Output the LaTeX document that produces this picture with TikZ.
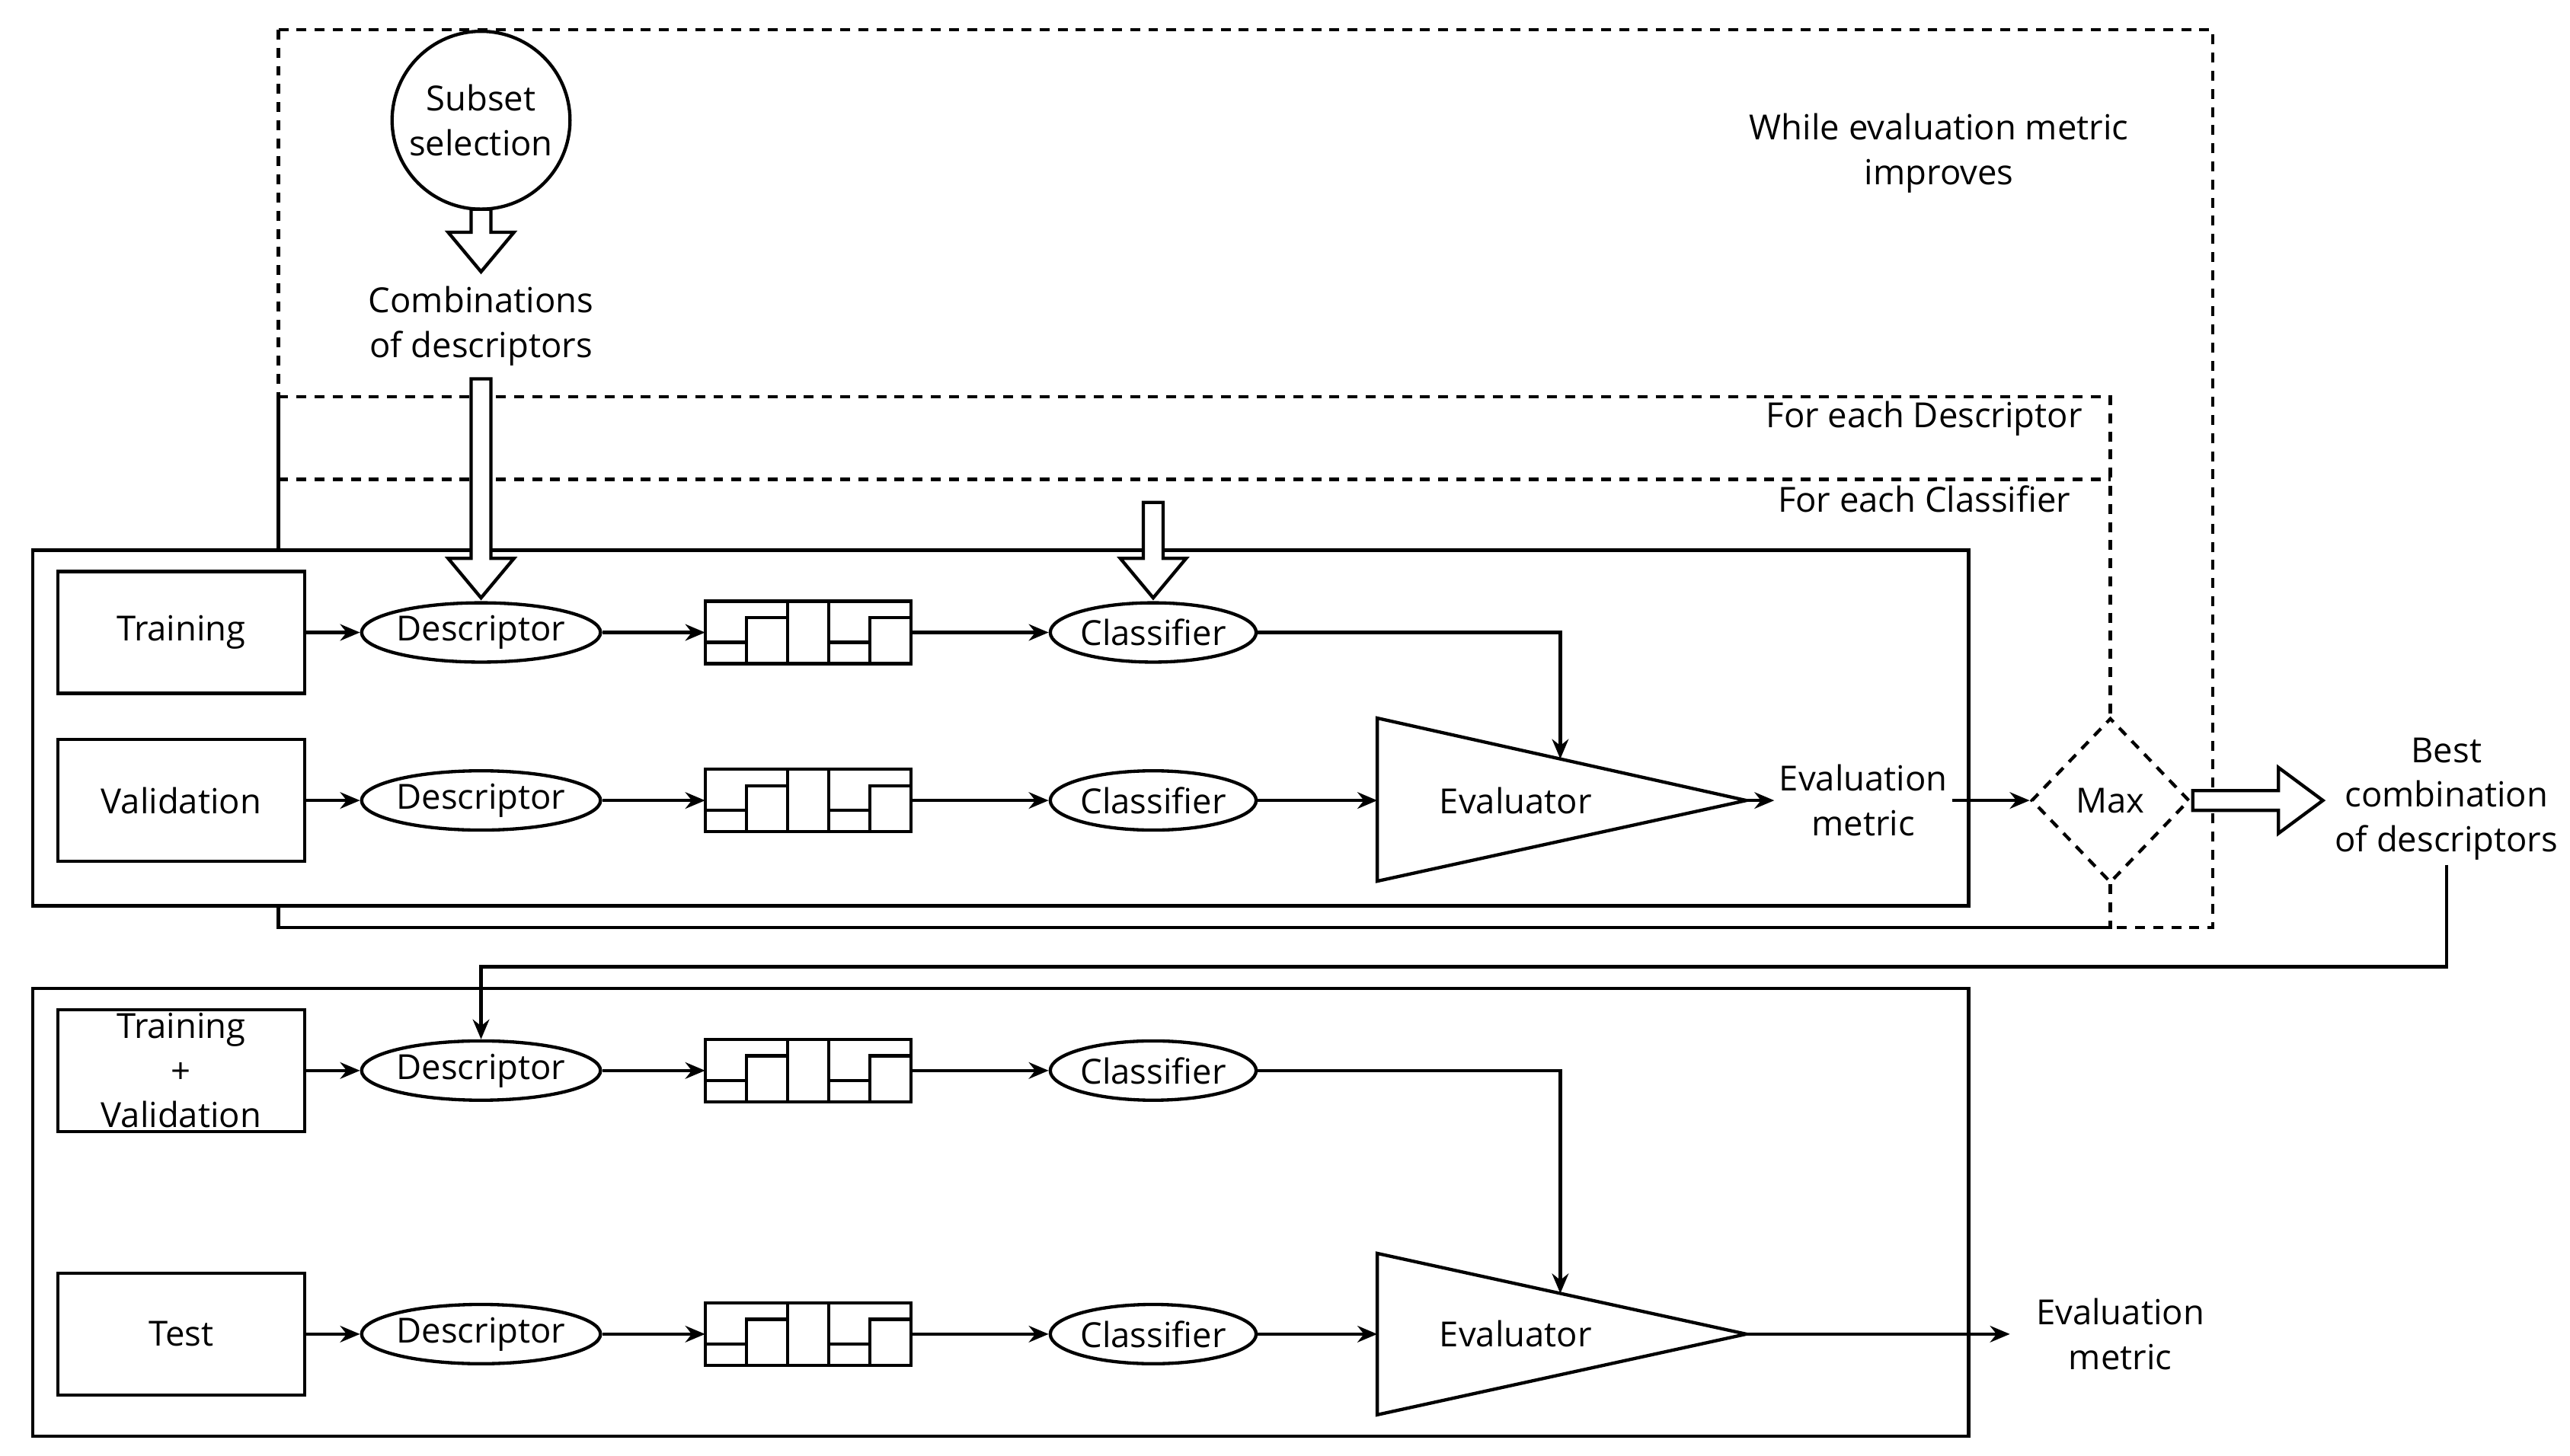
\documentclass[tikz,border=0pt]{standalone}
\usepackage{fontspec}
\setmainfont{Open Sans}
\usetikzlibrary{shapes.geometric,arrows.meta,calc}
\begin{document}
\begin{tikzpicture}[x=0.5pt,y=-0.5pt,line width=1pt,
  font=\fontsize{10.5}{13.5}\selectfont,
  box/.style={draw,minimum width=75pt,minimum height=37pt,inner sep=0pt},
  ell/.style={draw,ellipse,minimum width=62pt,minimum height=18pt,inner sep=0pt},
  dsh/.style={dash pattern=on 3pt off 2.5pt},
  arr/.style={-{Stealth[length=6pt,width=5pt]}},
  txt/.style={align=center,inner sep=1pt}]
\useasboundingbox (0,0) rectangle (1560,884);
% dashed loops
\draw[dsh] (169,18) rectangle (1343,563);
\draw[dsh] (169,241) -- (1281,241) -- (1281,563) -- (169,563) -- cycle;
\draw[dsh] (169,291) -- (1281,291);
\node[txt] at (1177,93) {While evaluation metric\\improves};
\node[txt] at (1168,254) {For each Descriptor};
\node[txt] at (1168,303) {For each Classifier};
% panels
\draw[fill=white] (20,334) rectangle (1195,550);
\draw[fill=white] (20,600) rectangle (1195,872);
\node[draw,circle,minimum size=54pt,inner sep=0pt,txt,fill=white] (sub) at (292,73) {Subset\\selection};
\node[txt] (comb) at (292,198) {Combinations\\of descriptors};
% histogram pic
\tikzset{hist/.pic={
  \draw (-62,-19) rectangle (63,19);
  \draw (-62,6) -- (-37,6) -- (-37,-9) -- (-12,-9) -- (-12,-19);
  \draw (-12,19) -- (-12,-19) (13,-19) -- (13,19);
  \draw (13,6) -- (38,6) -- (38,-9) -- (63,-9);
  \draw (-37,-9) -- (-37,19) (38,-9) -- (38,19);
}}
\newcommand{\hrow}[3]{% y, name, labeltext
  \node[box,txt] (#2b) at (110,#1) {#3};
  \node[ell] (#2d) at (292,#1) {Descriptor};
  \coordinate (#2h) at (490,#1);
  \pic at (#2h) {hist};
  \node[ell] (#2c) at (700,#1) {Classifier};
  \draw[arr] (#2b) -- (#2d);
  \draw[arr] (#2d) -- ($(#2h)+(-62,0)$);
  \draw[arr] ($(#2h)+(63,0)$) -- (#2c);
}
\hrow{384}{a}{Training}
\hrow{486}{b}{Validation}
\hrow{650}{c}{}
\hrow{810}{d}{Test}
\node[txt] at (110,650) {Training\\+\\Validation};
% evaluators
\draw (836,436) coordinate (e1a) -- (1060,486) coordinate (e1t) -- (836,535) -- cycle;
\node at (920,486) (ev1) {Evaluator};
\draw (836,761) coordinate (e2a) -- (1060,810) coordinate (e2t) -- (836,859) -- cycle;
\node at (920,810) (ev2) {Evaluator};
\draw[arr] (bc) -- (836,486);
\draw[arr] (dc) -- (836,810);
\draw[arr] (ac.east) -| ($(e1a)!0.496!(e1t)$);
\draw[arr] (cc.east) -| ($(e2a)!0.496!(e2t)$);
\node[txt] (em1) at (1131,486) {Evaluation\\metric};
\node[txt] (em2) at (1287,810) {Evaluation\\metric};
\draw[arr] (e1t) -- (em1);
\draw[arr] (e2t) -- (1220,810);
\node[draw,dsh,diamond,minimum width=48pt,minimum height=50pt,inner sep=0pt,fill=white] (max) at (1281,486) {Max};
\draw[arr] (em1) -- (max.west);
\node[txt] (best) at (1485,485) {Best\\combination\\of descriptors};
% block arrows
\newcommand{\barrowdown}[4]{% x, y1, y2(tip), headlen
  \draw[fill=white] (#1-6,#2) -- (#1-6,#3-#4) -- (#1-20,#3-#4) -- (#1,#3) -- (#1+20,#3-#4) -- (#1+6,#3-#4) -- (#1+6,#2) -- cycle;}
\barrowdown{292}{127}{165}{24}
\barrowdown{292}{230}{363}{24}
\barrowdown{700}{305}{363}{24}
\draw[fill=white] (1331,480) -- (1383,480) -- (1383,466) -- (1410,486) -- (1383,506) -- (1383,492) -- (1331,492) -- cycle;
% feedback
\draw[arr] (best.south) |- (292,587) -- (cd.north);
\end{tikzpicture}
\end{document}
